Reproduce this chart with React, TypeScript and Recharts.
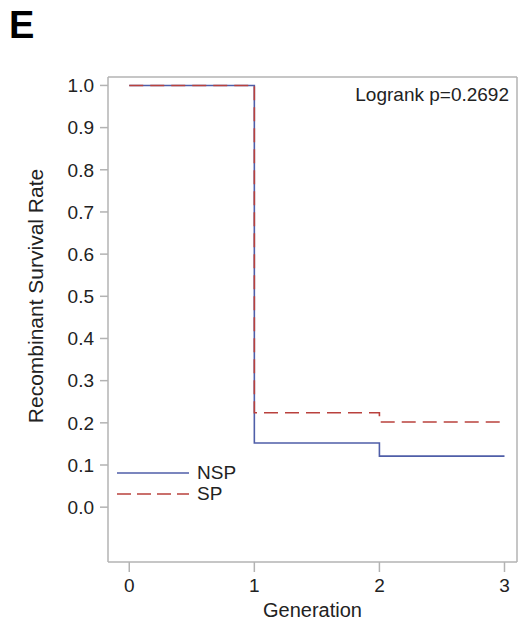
import { Line, LineChart, ReferenceLine, XAxis, YAxis } from "recharts";

const generations = [0, 1, 2, 3];
const nspSurvival = [1.0, 0.152, 0.121, 0.121];
const spSurvival = [1.0, 0.224, 0.202, 0.202];
const yTicks = [0, 0.1, 0.2, 0.3, 0.4, 0.5, 0.6, 0.7, 0.8, 0.9, 1.0];
const xTicks = [0, 1, 2, 3];

const data = generations.map((g, i) => ({ g, nsp: nspSurvival[i], sp: spSurvival[i] }));

const FONT = "'Liberation Sans', Arial, sans-serif";
const FS = 19;
const AXIS = "#b3b3b3";
const BLUE = "#4f5ea8";
const RED = "#b9413d";

// legend sits inside the plot area, bottom-left
function LegendBox() {
  return (
    <div style={{ position: "absolute", left: 117, top: 462, fontFamily: FONT, fontSize: FS, color: "#222", lineHeight: "22px" }}>
      <div style={{ display: "flex", alignItems: "center", height: 21 }}>
        <svg width={80} height={10}>
          <line x1={0} y1={5} x2={72} y2={5} stroke={BLUE} strokeWidth={1.6} />
        </svg>
        <span>NSP</span>
      </div>
      <div style={{ display: "flex", alignItems: "center", height: 21 }}>
        <svg width={80} height={10}>
          <line x1={0} y1={5} x2={72} y2={5} stroke={RED} strokeWidth={1.6} strokeDasharray="14 6" />
        </svg>
        <span>SP</span>
      </div>
    </div>
  );
}

// y title sits a bit above the plot's middle in the original
function YTitle() {
  return (
    <text
      x={35}
      y={296}
      transform="rotate(-90 35 296)"
      textAnchor="middle"
      dominantBaseline="central"
      style={{ fontFamily: FONT, fontSize: 21, fill: "#222" }}
    >
      Recombinant Survival Rate
    </text>
  );
}

export default function App() {
  return (
    <div style={{ position: "absolute", left: 0, top: 0, width: 519, height: 620, background: "#fff" }}>
      <LineChart width={519} height={620} data={data} margin={{ top: 77, right: 2, bottom: 0, left: 0 }}>
        <XAxis
          dataKey="g"
          type="number"
          domain={[-0.17, 3.1]}
          ticks={xTicks}
          allowDataOverflow
          stroke={AXIS}
          strokeWidth={1.5}
          tickSize={10}
          height={58}
          tick={{ fontFamily: FONT, fontSize: FS, fill: "#222", dy: 5 }}
          label={{ value: "Generation", position: "insideBottom", offset: 3, style: { fontFamily: FONT, fontSize: 20, fill: "#222" } }}
        />
        <YAxis
          type="number"
          domain={[-0.13, 1.02]}
          ticks={yTicks}
          allowDataOverflow
          stroke={AXIS}
          strokeWidth={1.5}
          tickSize={8}
          width={108}
          tickFormatter={(v: number) => v.toFixed(1)}
          tick={{ fontFamily: FONT, fontSize: FS, fill: "#222", dx: -4 }}
          label={{ content: () => <YTitle /> }}
        />
        <ReferenceLine y={1.02} stroke={AXIS} strokeWidth={1.5} ifOverflow="extendDomain" />
        <ReferenceLine x={3.1} stroke={AXIS} strokeWidth={1.5} ifOverflow="extendDomain" />
        <Line type="stepAfter" dataKey="nsp" stroke={BLUE} strokeWidth={1.6} dot={false} isAnimationActive={false} />
        <Line type="stepAfter" dataKey="sp" stroke={RED} strokeWidth={1.6} strokeDasharray="14 7" dot={false} isAnimationActive={false} />
      </LineChart>
      <div style={{ position: "absolute", left: 9, top: 4, fontFamily: FONT, fontWeight: 700, fontSize: 38 }}>E</div>
      <div style={{ position: "absolute", right: 10, top: 84, fontFamily: FONT, fontSize: FS, color: "#222" }}>
        Logrank p=0.2692
      </div>
      <LegendBox />
    </div>
  );
}
